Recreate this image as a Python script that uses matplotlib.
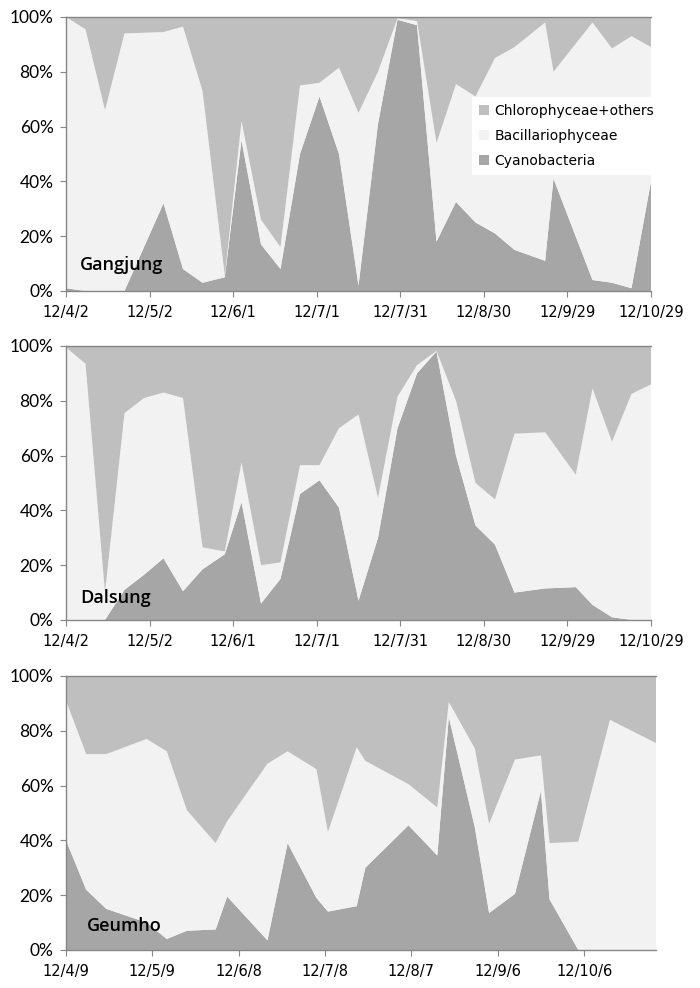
import matplotlib
matplotlib.use("Agg")

import matplotlib.pyplot as plt
from matplotlib.patches import Patch
import pandas as pd

# Gangjung
gangjung_dates = ["2012-04-02", "2012-04-09", "2012-04-16", "2012-04-23", "2012-05-07",
                  "2012-05-14", "2012-05-21", "2012-05-29", "2012-06-04", "2012-06-11",
                  "2012-06-18", "2012-06-25", "2012-07-02", "2012-07-09", "2012-07-16",
                  "2012-07-23", "2012-07-30", "2012-08-06", "2012-08-13", "2012-08-20",
                  "2012-08-27", "2012-09-03", "2012-09-10", "2012-09-21", "2012-09-24",
                  "2012-10-08", "2012-10-15", "2012-10-22", "2012-10-29"]
gangjung_cyano = [1, 0, 0, 0, 32, 8, 3, 5, 55, 17, 8, 50, 71, 50, 2,
                  61, 99, 97, 18, 32.5, 25, 21, 15, 11, 41, 4, 3, 1, 40]
gangjung_bac = [99, 95.5, 66, 94, 62.5, 88.5, 70, 0.5, 7, 9, 8, 25, 5, 31.5, 63,
                19, 0.5, 1.5, 36, 43, 46, 64, 74, 87, 39, 94, 85.5, 92, 49]
gangjung_chl = [0, 4.5, 34, 6, 5.5, 3.5, 27, 94.5, 38, 74, 84, 25, 24, 18.5, 35,
                20, 0.5, 1.5, 46, 24.5, 29, 15, 11, 2, 20, 2, 11.5, 7, 11]

# Dalsung
dalsung_dates = ["2012-04-02", "2012-04-09", "2012-04-16", "2012-04-23", "2012-04-30",
                 "2012-05-07", "2012-05-14", "2012-05-21", "2012-05-29", "2012-06-04",
                 "2012-06-11", "2012-06-18", "2012-06-25", "2012-07-02", "2012-07-09",
                 "2012-07-16", "2012-07-23", "2012-07-30", "2012-08-06", "2012-08-13",
                 "2012-08-20", "2012-08-27", "2012-09-03", "2012-09-10", "2012-09-21",
                 "2012-10-02", "2012-10-08", "2012-10-15", "2012-10-22", "2012-10-29"]
dalsung_cyano = [0, 0, 0, 11, 16.5, 22.5, 10.5, 18.5, 24, 43, 6, 15, 46, 51, 41,
                 7, 30, 70, 90, 98, 60, 34.5, 27.5, 10, 11.5, 12, 5.5, 1, 0, 0]
dalsung_bac = [99.5, 93.5, 10, 64.5, 64.5, 60.5, 70.5, 8, 1, 14.5, 14, 6, 10.5, 5.5, 29,
               68, 14.5, 11.5, 3, 0.2, 20, 15.5, 16.5, 58, 57, 41, 79, 64, 82.5, 86]
dalsung_chl = [0.5, 6.5, 90, 24.5, 19, 17, 19, 73.5, 75, 42.5, 80, 79, 43.5, 43.5, 30,
               25, 55.5, 18.5, 7, 1.8, 20, 50, 56, 32, 31.5, 47, 15.5, 35, 17.5, 14]

# Geumho
geumho_dates = ["2012-04-09", "2012-04-16", "2012-04-23", "2012-05-07", "2012-05-14",
                "2012-05-21", "2012-05-31", "2012-06-04", "2012-06-18", "2012-06-25",
                "2012-07-05", "2012-07-09", "2012-07-19", "2012-07-22", "2012-08-06",
                "2012-08-16", "2012-08-20", "2012-08-29", "2012-09-03", "2012-09-12",
                "2012-09-21", "2012-09-24", "2012-10-04", "2012-10-15", "2012-10-31"]
geumho_cyano = [40, 22, 15, 10, 4, 7, 7.5, 19.5, 3.5, 39, 19, 14, 16, 30, 45.5,
                34.5, 85, 45, 13.5, 20.5, 58, 18.5, 0, 0, 0]
geumho_bac = [51, 49.5, 56.5, 67, 68.5, 44, 31.5, 27.5, 64.5, 33.5, 47, 29, 58, 39, 15,
              17.5, 5.5, 28.6, 32.5, 49, 13, 20.5, 39.5, 84, 75.5]
geumho_chl = [9, 28.5, 28.5, 23, 27.5, 49, 61, 53, 32, 27.5, 34, 57, 26, 31, 39.5,
              48, 9.5, 26.4, 54, 30.5, 29, 61, 60.5, 16, 24.5]

ticks_a = ["2012-04-02", "2012-05-02", "2012-06-01", "2012-07-01",
           "2012-07-31", "2012-08-30", "2012-09-29", "2012-10-29"]
ticks_b = ["2012-04-09", "2012-05-09", "2012-06-08", "2012-07-08",
           "2012-08-07", "2012-09-06", "2012-10-06"]

series_names = ["Cyanobacteria", "Bacillariophyceae", "Chlorophyceae+others"]
colors = ["#a6a6a6", "#f2f2f2", "#bfbfbf"]

panels = [
    ("Gangjung", gangjung_dates, gangjung_cyano, gangjung_bac, gangjung_chl,
     ticks_a, ("2012-04-02", "2012-10-29"), [0.0943, 0.7055, 0.8357, 0.2773], (0.024, 0.095)),
    ("Dalsung", dalsung_dates, dalsung_cyano, dalsung_bac, dalsung_chl,
     ticks_a, ("2012-04-02", "2012-10-29"), [0.0943, 0.3725, 0.8357, 0.2773], (0.024, 0.08)),
    ("Geumho", geumho_dates, geumho_cyano, geumho_bac, geumho_chl,
     ticks_b, ("2012-04-09", "2012-10-31"), [0.0943, 0.0385, 0.8429, 0.2773], (0.035, 0.088)),
]


def date_label(d):
    return f"{d.year % 100}/{d.month}/{d.day}"


fig = plt.figure(figsize=(7, 9.88), dpi=100)

for i, (name, dates, cy, ba, ch, ticks, lim, rect, lab) in enumerate(panels):
    ax = fig.add_axes(rect)
    x = pd.to_datetime(dates)
    ax.stackplot(x, cy, ba, ch, colors=colors, linewidth=0)

    ax.set_xlim(pd.Timestamp(lim[0]), pd.Timestamp(lim[1]))
    ax.set_ylim(0, 100)

    tick_dates = pd.to_datetime(ticks)
    ax.set_xticks(tick_dates)
    ax.set_xticklabels([date_label(d) for d in tick_dates], fontsize=10.5,
                       family="DejaVu Sans")
    ax.set_yticks(range(0, 101, 20))
    ax.set_yticklabels([f"{v}%" for v in range(0, 101, 20)], fontsize=12.5,
                       family="Lato")

    ax.tick_params(axis="x", direction="out", length=4, color="#868686", pad=6)
    ax.tick_params(axis="y", direction="out", length=4, color="#868686", pad=5)

    for side in ["left", "bottom", "top"]:
        ax.spines[side].set_color("#868686")
        ax.spines[side].set_linewidth(1)
    ax.spines["right"].set_visible(False)

    ax.text(lab[0], lab[1], name, transform=ax.transAxes, fontsize=13,
            family="Open Sans", fontweight="semibold", va="center", ha="left")

    if i == 0:
        handles = [Patch(facecolor=colors[2], edgecolor="none"),
                   Patch(facecolor=colors[1], edgecolor="none"),
                   Patch(facecolor=colors[0], edgecolor="none")]
        labels = [series_names[2], series_names[1], series_names[0]]
        leg = ax.legend(handles, labels, loc="upper left",
                        bbox_to_anchor=(0.694, 0.708), frameon=True,
                        fancybox=False, framealpha=1, edgecolor="none",
                        facecolor="white", prop={"family": "DejaVu Sans", "size": 10},
                        handlelength=0.7, handleheight=0.7, handletextpad=0.4,
                        labelspacing=0.8, borderpad=0.5, borderaxespad=0)

plt.savefig("out.png", dpi=100)
plt.close()
